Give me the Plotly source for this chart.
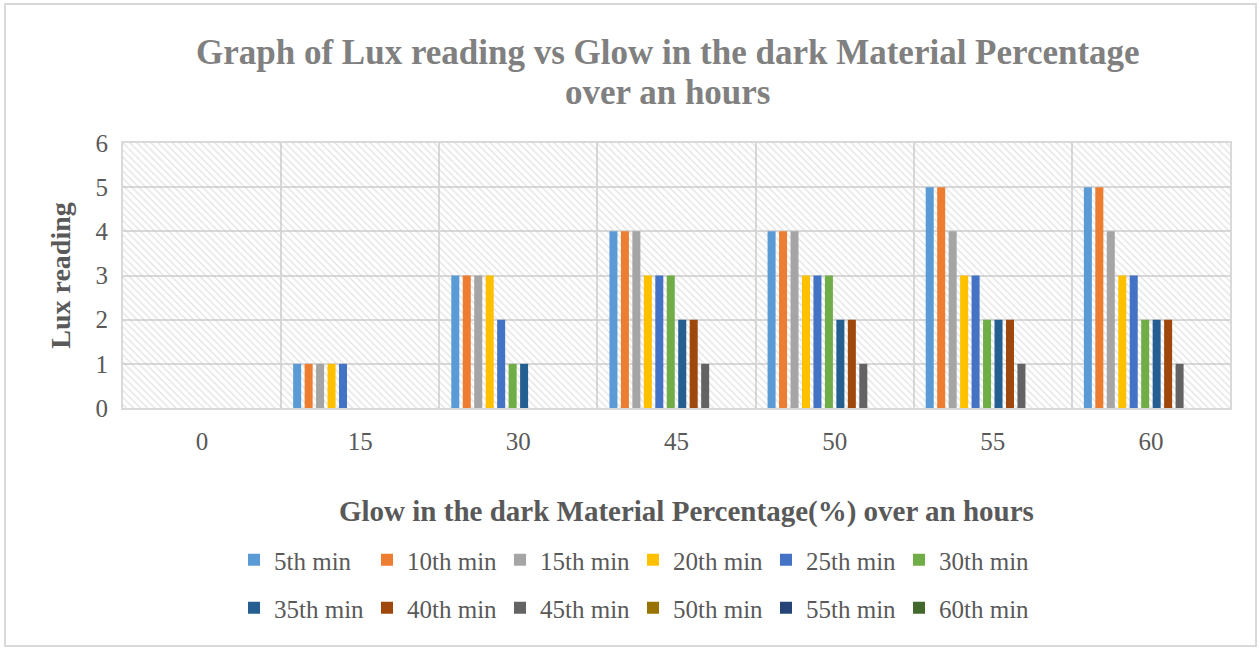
import plotly.graph_objects as go

categories = ["0", "15", "30", "45", "50", "55", "60"]
series_names = ["5th min", "10th min", "15th min", "20th min", "25th min", "30th min",
                "35th min", "40th min", "45th min", "50th min", "55th min", "60th min"]
min5 = [0, 1, 3, 4, 4, 5, 5]
min10 = [0, 1, 3, 4, 4, 5, 5]
min15 = [0, 1, 3, 4, 4, 4, 4]
min20 = [0, 1, 3, 3, 3, 3, 3]
min25 = [0, 1, 2, 3, 3, 3, 3]
min30 = [0, 0, 1, 3, 3, 2, 2]
min35 = [0, 0, 1, 2, 2, 2, 2]
min40 = [0, 0, 0, 2, 2, 2, 2]
min45 = [0, 0, 0, 1, 1, 1, 1]
min50 = [0, 0, 0, 0, 0, 0, 0]
min55 = [0, 0, 0, 0, 0, 0, 0]
min60 = [0, 0, 0, 0, 0, 0, 0]
series_values = [min5, min10, min15, min20, min25, min30, min35, min40, min45, min50, min55, min60]
colors = ["#5B9BD5", "#ED7D31", "#A5A5A5", "#FFC000", "#4472C4", "#70AD47",
          "#255E91", "#9E480E", "#636363", "#997300", "#264478", "#43682B"]
y_ticks = [0, 1, 2, 3, 4, 5, 6]

FONT = "Liberation Serif"
GRID = "#D9D9D9"

fig = go.Figure()

# hatched plot-area background (drawn on the main, hidden x axis)
fig.add_trace(go.Bar(
    x=[0.5], y=[6], width=[1], xaxis="x", yaxis="y",
    marker=dict(color="rgba(0,0,0,0)", line=dict(width=0),
                pattern=dict(shape="\\", fgcolor="#C4C4C4", bgcolor="rgba(0,0,0,0)",
                             size=5, solidity=0.25)),
    showlegend=False, hoverinfo="skip"))

for i, (name, vals, col) in enumerate(zip(series_names, series_values, colors)):
    fig.add_trace(go.Bar(x=categories, y=vals, name=name, xaxis="x2", yaxis="y",
                         legend="legend" if i < 6 else "legend2",
                         marker=dict(color=col, line=dict(width=0))))

W, H = 1260, 648
L, T = 123, 143
R = W - 1230
B = H - 408
pw, ph = W - L - R, H - T - B

def px(xs):
    return (xs - L) / pw

def py(ys):
    return (H - B - ys) / ph

legend_common = dict(orientation="h", xanchor="left", yanchor="middle",
                     font=dict(size=25, color="#595959"), entrywidth=88,
                     itemwidth=30, tracegroupgap=0, traceorder="normal",
                     bgcolor="rgba(0,0,0,0)")

fig.update_layout(
    width=W, height=H,
    margin=dict(l=L, r=R, t=T, b=B, autoexpand=False),
    paper_bgcolor="white", plot_bgcolor="white",
    barmode="group", bargap=0.13, bargroupgap=0.3,
    font=dict(family=FONT, color="#595959"),
    xaxis=dict(range=[0, 1], visible=False, fixedrange=True),
    xaxis2=dict(overlaying="x", type="category", tickson="boundaries",
                showgrid=True, gridcolor=GRID, gridwidth=2,
                showline=True, linecolor=GRID, linewidth=2, mirror=True,
                ticks="", tickfont=dict(size=25, color="#595959"), ticklabelstandoff=10),
    yaxis=dict(range=[0, 6], tickvals=y_ticks, showgrid=True, gridcolor=GRID, gridwidth=2,
               showline=True, linecolor=GRID, linewidth=2, mirror=True,
               ticks="", tickfont=dict(size=25, color="#595959"), ticklabelstandoff=8,
               zeroline=False,
               title=dict(text="<b>Lux reading</b>", font=dict(size=28, color="#595959"),
                          standoff=17)),
    legend=dict(x=px(234), y=py(560), **legend_common),
    legend2=dict(x=px(234), y=py(608), **legend_common),
    annotations=[
        dict(text="<b>Graph of Lux reading vs Glow in the dark Material Percentage</b>",
             x=px(668), y=py(52), xref="paper", yref="paper", showarrow=False,
             font=dict(size=35, color="#808080", family=FONT), xanchor="center", yanchor="middle"),
        dict(text="<b>over an hours</b>",
             x=px(668), y=py(92), xref="paper", yref="paper", showarrow=False,
             font=dict(size=35, color="#808080", family=FONT), xanchor="center", yanchor="middle"),
        dict(text="<b>Glow in the dark Material Percentage(%) over an hours</b>",
             x=px(686), y=py(511), xref="paper", yref="paper", showarrow=False,
             font=dict(size=29, color="#595959", family=FONT), xanchor="center", yanchor="middle"),
    ],
    shapes=[dict(type="rect", xref="paper", yref="paper",
                 x0=px(5), x1=px(1256), y0=py(646), y1=py(4),
                 line=dict(color=GRID, width=2), fillcolor="rgba(0,0,0,0)", layer="below")],
    hovermode=False,
)

fig.write_html("out.html", config={"displayModeBar": False},
               post_script="document.body.style.margin='0';document.body.style.overflow='hidden';")
